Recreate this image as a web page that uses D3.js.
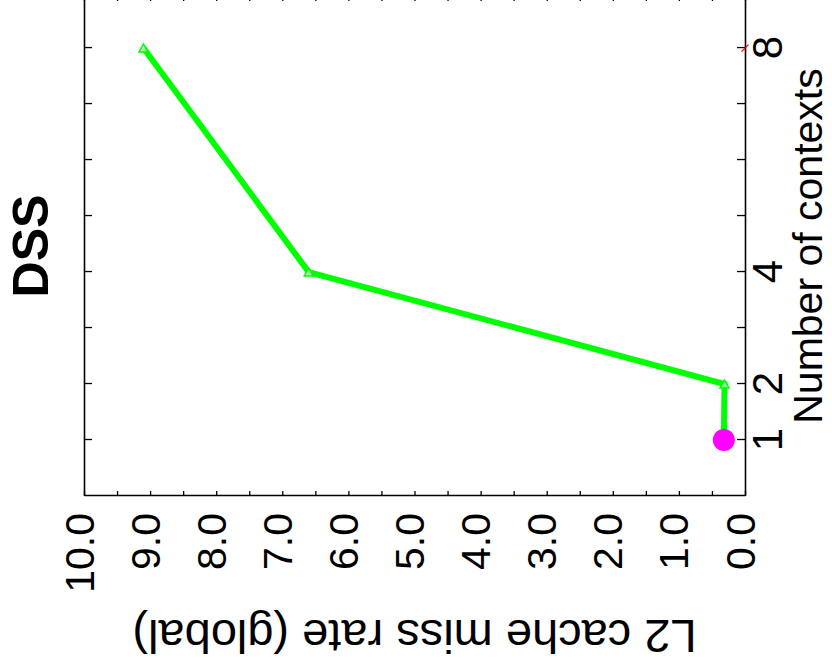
<!DOCTYPE html>
<html>
<head>
<meta charset="utf-8">
<script src="https://cdn.jsdelivr.net/npm/d3@7"></script>
<style>
  body { margin: 0; background: #fff; }
  svg { display: block; }
</style>
</head>
<body>
<div class="graphe"></div>
<script>
"use strict";

  // donnees
  var contexts = [1, 2, 4, 8];
  var missRate = [0.32, 0.31, 6.6, 9.1];
  var singleContexts = [1];
  var singleRate = [0.32];
  var otherContexts = [8];
  var otherRate = [0.0];
  var xTickValues = [1, 2, 3, 4, 5, 6, 7, 8];
  var xTickLabels = ["1", "2", "4", "8"];
  var yTickValues = [0, 0.5, 1, 1.5, 2, 2.5, 3, 3.5, 4, 4.5, 5, 5.5, 6, 6.5, 7, 7.5, 8, 8.5, 9, 9.5, 10];
  var yTickLabels = ["0.0", "1.0", "2.0", "3.0", "4.0", "5.0", "6.0", "7.0", "8.0", "9.0", "10.0"];

  var larg = 832; // largeur de la page
  var haut = 670; // hauteur de la page
  var police = "'Liberation Sans', Arial, Helvetica, sans-serif";

  // le graphe est dessine debout puis tourne de -90 degres
  // (repere d'origine : largeur = haut, hauteur = larg)
  var gauche = 174, droite = 674, dessus = 84, dessous = 745;

  var x = d3.scaleLinear().domain([0, 8.93]).range([gauche, droite]);
  var y = d3.scaleLinear().domain([0, 10]).range([dessous, dessus]);

  var svg = d3.select(".graphe")
    .append("svg")
    .attr("width", larg)
    .attr("height", haut);

  var g = svg.append("g")
    .attr("transform", "translate(0," + haut + ") rotate(-90)");

  function styleAxe(sel) {
    sel.select(".domain").attr("stroke", "#000").attr("stroke-width", 1.6);
    sel.selectAll(".tick line").attr("stroke", "#000").attr("stroke-width", 1.3);
    sel.selectAll(".tick text")
      .attr("fill", "#000")
      .attr("font-family", police);
  }

  // axe des valeurs (gauche)
  var axeY = g.append("g")
    .attr("transform", "translate(" + gauche + ",0)")
    .call(d3.axisLeft(y)
      .tickValues(yTickValues)
      .tickSizeInner(-5)
      .tickSizeOuter(0)
      .tickPadding(17)
      .tickFormat(function(d){
        if (d % 1 !== 0) return "";
        return yTickLabels[d];
      }));
  styleAxe(axeY);
  axeY.selectAll(".tick text")
    .attr("font-size", "41px")
    .attr("dy", "0.22em");

  // axe des valeurs (droite, sans texte)
  var axeY2 = g.append("g")
    .attr("transform", "translate(" + droite + ",0)")
    .call(d3.axisRight(y)
      .tickValues(yTickValues)
      .tickSizeInner(-5)
      .tickSizeOuter(0)
      .tickFormat(""));
  styleAxe(axeY2);

  // axe du nombre de contextes (bas)
  var axeX = g.append("g")
    .attr("transform", "translate(0," + dessous + ")")
    .call(d3.axisBottom(x)
      .tickValues(xTickValues)
      .tickSizeInner(-8)
      .tickSizeOuter(0)
      .tickPadding(7)
      .tickFormat(function(d){
        var s = String(d);
        return xTickLabels.indexOf(s) >= 0 ? s : "";
      }));
  styleAxe(axeX);
  axeX.selectAll(".tick text").attr("font-size", "42px");

  // axe du nombre de contextes (haut, sans texte)
  var axeX2 = g.append("g")
    .attr("transform", "translate(0," + dessus + ")")
    .call(d3.axisTop(x)
      .tickValues(xTickValues)
      .tickSizeInner(-8)
      .tickSizeOuter(0)
      .tickFormat(""));
  styleAxe(axeX2);

  // courbe verte
  var points = contexts.map(function(c, i){ return [c, missRate[i]]; });
  var ligne = d3.line()
    .x(function(d){ return x(d[0]); })
    .y(function(d){ return y(d[1]); });

  g.append("path")
    .datum(points)
    .attr("d", ligne)
    .attr("fill", "none")
    .attr("stroke", "#00ff00")
    .attr("stroke-width", 6);

  // triangles (pointes vers le haut une fois tourne)
  g.selectAll("path.triangle")
    .data(points)
    .enter()
    .append("path")
    .attr("class", "triangle")
    .attr("d", function(d){
      var u = x(d[0]), v = y(d[1]);
      return "M" + (u + 4) + "," + v + "L" + (u - 4) + "," + (v - 4.5) +
             "L" + (u - 4) + "," + (v + 4.5) + "Z";
    })
    .attr("fill", "#fff")
    .attr("fill-opacity", 0.6)
    .attr("stroke", "#00ff00")
    .attr("stroke-width", 1.5);

  // point magenta (1 contexte)
  g.selectAll("circle.seul")
    .data(singleContexts)
    .enter()
    .append("circle")
    .attr("class", "seul")
    .attr("cx", function(d){ return x(d); })
    .attr("cy", function(d, i){ return y(singleRate[i]); })
    .attr("r", 11)
    .attr("fill", "#ff00ff");

  // petite marque rouge
  g.selectAll("line.autre")
    .data(otherContexts)
    .enter()
    .append("line")
    .attr("class", "autre")
    .attr("x1", function(d){ return x(d) - 3.5; })
    .attr("y1", function(d, i){ return y(otherRate[i]) - 3.5; })
    .attr("x2", function(d){ return x(d) + 3.5; })
    .attr("y2", function(d, i){ return y(otherRate[i]) + 3.5; })
    .attr("stroke", "#ff0000")
    .attr("stroke-width", 1.2);

  // titre
  g.append("text")
    .attr("x", (gauche + droite) / 2)
    .attr("y", 48)
    .attr("text-anchor", "middle")
    .attr("font-family", police)
    .attr("font-weight", "bold")
    .attr("font-size", "50px")
    .attr("fill", "#000")
    .text("DSS");

  // titre axe x
  g.append("text")
    .attr("x", (gauche + droite) / 2)
    .attr("y", 822)
    .attr("text-anchor", "middle")
    .attr("font-family", police)
    .attr("font-size", "41px")
    .attr("fill", "#000")
    .text("Number of contexts");

  // titre axe y
  g.append("text")
    .attr("transform", "translate(50," + ((dessus + dessous) / 2) + ") rotate(-90)")
    .attr("text-anchor", "middle")
    .attr("font-family", police)
    .attr("font-size", "47px")
    .attr("fill", "#000")
    .text("L2 cache miss rate (global)");
</script>
</body>
</html>
